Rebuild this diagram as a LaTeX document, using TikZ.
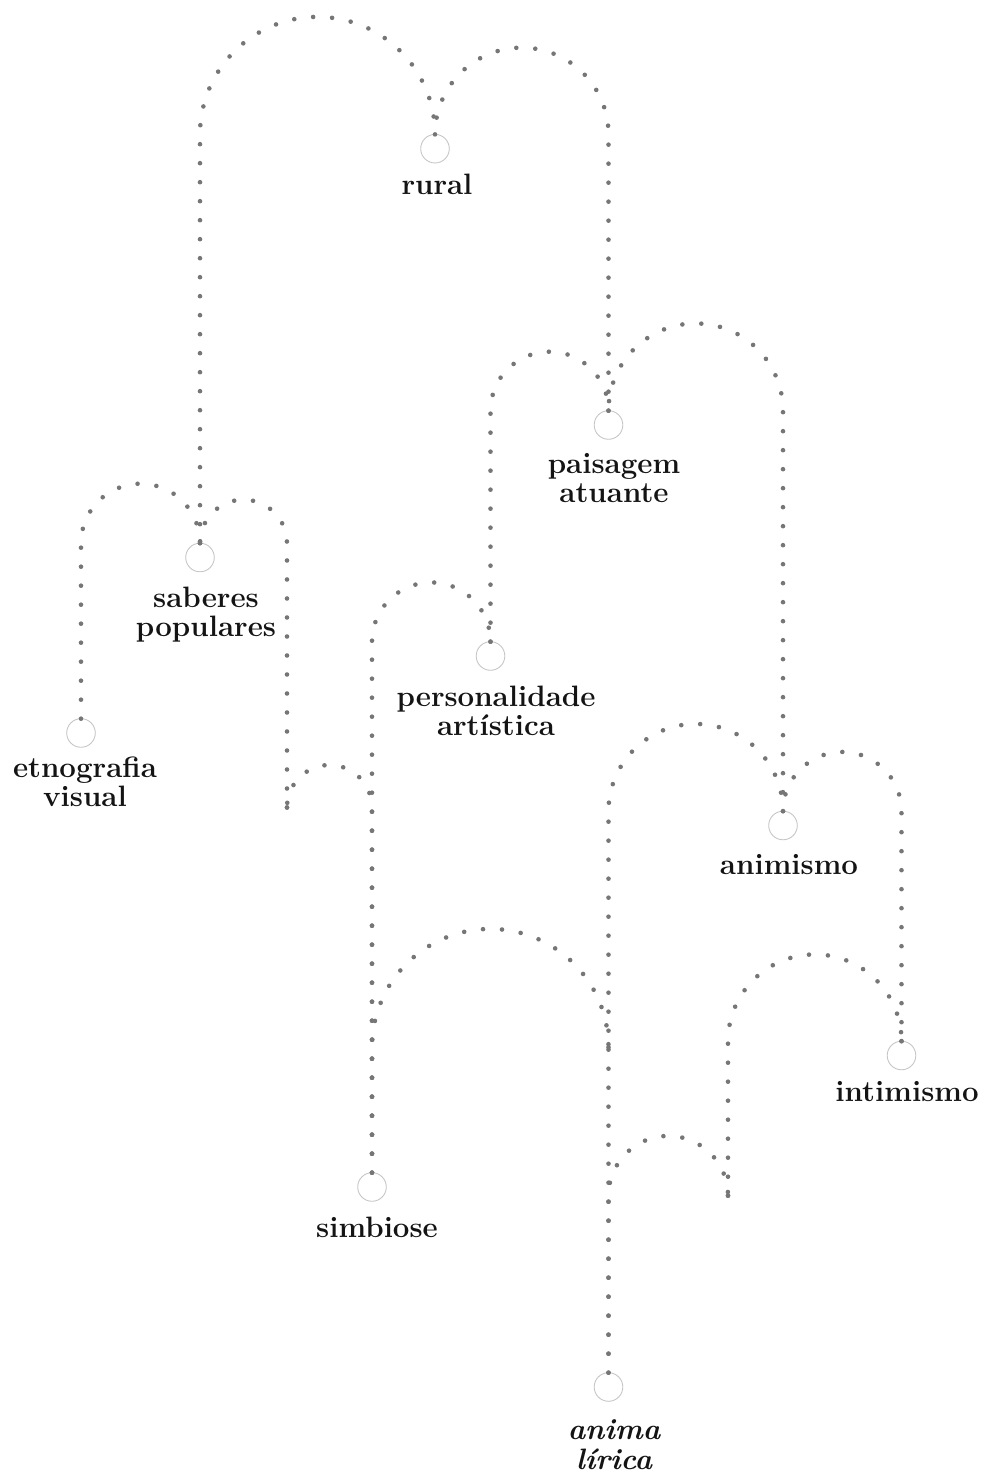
\documentclass[tikz,border=0pt]{standalone}
\usepackage{fontspec}
\definecolor{dotgrey}{HTML}{767676}
\definecolor{ringgrey}{HTML}{C6C6C6}
\newcommand\twoline[2]{\vtop{\halign{\hfil##\hfil\cr#1\cr#2\cr}}}
\begin{document}
\begin{tikzpicture}[x=1pt,y=1pt,
  ring/.style={circle, draw=ringgrey, line width=0.9pt, minimum size=28.6pt, inner sep=0pt, outer sep=0pt},
  lab/.style={anchor=base, inner sep=0pt, font=\fontsize{29.5}{29}\selectfont\bfseries, text=black!92},
  edgeline/.style={draw=dotgrey, line width=4.6pt, line cap=round, dash pattern=on 0pt off 19pt},
  enddot/.style={fill=dotgrey}]
\useasboundingbox (0,0) rectangle (985,1473);
% nodes
\node[ring] (rural) at (435,1324.3) {};
\node[ring] (pais) at (608.5,1048) {};
\node[ring] (sab) at (200,915.5) {};
\node[ring] (etno) at (81,740) {};
\node[ring] (pers) at (490.5,817) {};
\node[ring] (anim) at (783,647.5) {};
\node[ring] (inti) at (901.5,417.5) {};
\node[ring] (simb) at (372,286) {};
\node[ring] (lira) at (608.5,86) {};
\coordinate (h1) at (287,665.5);
\coordinate (h2) at (728,277.3);
\coordinate (h3) at (608.5,425.8);
% connectors (child first)
\draw[edgeline] (sab.north) -- (200,1338.6) arc[start angle=180,end angle=0,radius=117.5] -- (rural.north);
\draw[edgeline] (pais.north) -- (608.5,1338.6) arc[start angle=0,end angle=180,radius=86.75] -- (rural.north);
\draw[edgeline] (etno.north) -- (81,929.8) arc[start angle=180,end angle=0,radius=59.5] -- (sab.north);
\draw[edgeline] (h1) -- (287,929.8) arc[start angle=0,end angle=180,radius=43.5] -- (sab.north);
\draw[edgeline] (pers.north) -- (490.5,1062.3) arc[start angle=180,end angle=0,radius=59] -- (pais.north);
\draw[edgeline] (anim.north) -- (783,1062.3) arc[start angle=0,end angle=180,radius=87.25] -- (pais.north);
\draw[edgeline] (simb.north) -- (372,831.3) arc[start angle=180,end angle=0,radius=59.25] -- (pers.north);
\draw[edgeline] (lira.north) -- (608.5,661.8) arc[start angle=180,end angle=0,radius=87.25] -- (anim.north);
\draw[edgeline] (inti.north) -- (901.5,661.8) arc[start angle=0,end angle=180,radius=59.25] -- (anim.north);
\draw[edgeline] (h2) -- (728,431.8) arc[start angle=180,end angle=0,radius=86.75] -- (inti.north);
\draw[edgeline] (lira.north) -- (608.5,277.3) arc[start angle=180,end angle=0,radius=59.75] -- (h2);
\draw[edgeline] (simb.north) -- (372,665.5) arc[start angle=0,end angle=180,radius=42.5] -- (h1);
\draw[edgeline] (simb.north) -- (372,425.8) arc[start angle=180,end angle=0,radius=118.25] -- (h3);
% end dots at parents
\foreach \p in {rural.north,pais.north,sab.north,pers.north,anim.north,inti.north,h1,h2,h3}
  \fill[enddot] (\p) circle (2.3pt);
% labels
\node[lab] (lrural) at (437,1278) {rural};
\node[lab] (lpais) at (614,999) {\twoline{paisagem}{atuante}};
\node[lab] (lsab) at (206,865) {\twoline{saberes}{populares}};
\node[lab] (letno) at (85,695) {\twoline{etnografia}{visual}};
\node[lab] (lpers) at (496,766) {\twoline{personalidade}{artística}};
\node[lab] (lanim) at (789,598) {animismo};
\node[lab] (linti) at (907,371) {intimismo};
\node[lab] (lsimb) at (377,235) {simbiose};
\node[lab] (llira) at (614,33) {\itshape\twoline{anima}{lírica}};
\end{tikzpicture}
\end{document}
